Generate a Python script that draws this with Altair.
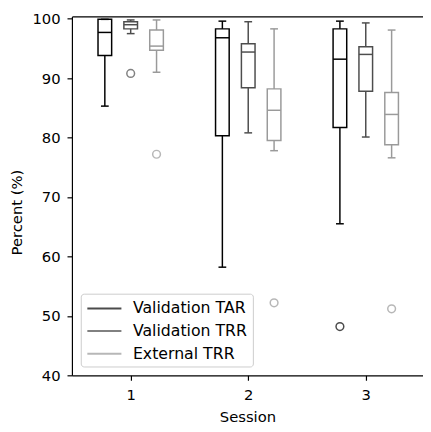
import altair as alt
import pandas as pd

sessions = [1, 2, 3]
groups = ["Validation TAR", "Validation TRR", "External TRR"]
colors = ["#000000", "#4d4d4d", "#9a9a9a"]
group_offsets = [-0.22, 0.0, 0.22]

# box statistics per group, one value per session
whisker_low = {
    "Validation TAR": [85.3, 58.2, 65.5],
    "Validation TRR": [97.5, 80.8, 80.1],
    "External TRR": [91.0, 77.8, 76.6],
}
q1 = {
    "Validation TAR": [93.8, 80.3, 81.7],
    "Validation TRR": [98.3, 88.4, 87.8],
    "External TRR": [94.7, 79.5, 78.8],
}
median = {
    "Validation TAR": [97.7, 96.8, 93.2],
    "Validation TRR": [99.0, 94.4, 94.0],
    "External TRR": [95.4, 84.6, 83.9],
}
q3 = {
    "Validation TAR": [99.9, 98.3, 98.3],
    "Validation TRR": [99.5, 95.8, 95.3],
    "External TRR": [98.1, 88.2, 87.6],
}
whisker_high = {
    "Validation TAR": [99.9, 99.6, 99.6],
    "Validation TRR": [99.8, 99.5, 99.3],
    "External TRR": [99.8, 98.3, 98.1],
}
outlier_group = ["Validation TRR", "External TRR", "External TRR", "Validation TAR", "External TRR"]
outlier_session = [1, 1, 2, 3, 3]
outlier_value = [90.8, 77.2, 52.2, 48.2, 51.2]

rows = []
for gi, g in enumerate(groups):
    for si, s in enumerate(sessions):
        rows.append({
            "group": g, "session": s, "off": group_offsets[gi],
            "lo": whisker_low[g][si], "q1": q1[g][si], "med": median[g][si],
            "q3": q3[g][si], "hi": whisker_high[g][si],
        })
df = pd.DataFrame(rows)
out = pd.DataFrame({
    "group": outlier_group,
    "session": outlier_session,
    "off": [group_offsets[groups.index(g)] for g in outlier_group],
    "value": outlier_value,
})

xscale = alt.Scale(domain=[0.5, 3.487], nice=False, zero=False)
yscale = alt.Scale(domain=[40, 100.4], nice=False, zero=False)
stroke = alt.Stroke("group:N", scale=alt.Scale(domain=groups, range=colors),
                    legend=alt.Legend(title=None))

base = alt.Chart(df).transform_calculate(
    pos="datum.session + datum.off",
    bl="datum.session + datum.off - 0.058",
    br="datum.session + datum.off + 0.058",
    cl="datum.session + datum.off - 0.033",
    cr="datum.session + datum.off + 0.033",
)

xaxis = alt.Axis(orient="bottom", values=[1, 2, 3], format="d", title="Session", grid=False,
                 tickSize=5, labelPadding=8, titlePadding=7)
yaxis = alt.Axis(values=[40, 50, 60, 70, 80, 90, 100], title="Percent (%)", grid=False,
                 tickSize=5, labelPadding=7, titlePadding=8, titleY=199)

boxes = base.mark_rect(filled=False, strokeWidth=1.5).encode(
    x=alt.X("bl:Q", scale=xscale, axis=xaxis),
    x2="br:Q",
    y=alt.Y("q1:Q", scale=yscale, axis=yaxis),
    y2="q3:Q",
    stroke=stroke,
)
medians = base.mark_rule(strokeWidth=1.5).encode(
    x=alt.X("bl:Q", scale=xscale,
            axis=alt.Axis(orient="top", labels=False, ticks=False, title=None, grid=False)),
    x2="br:Q",
    y=alt.Y("med:Q", scale=yscale),
    stroke=stroke,
)
upper = base.mark_rule(strokeWidth=1.5).encode(
    x=alt.X("pos:Q", scale=xscale, axis=None), y=alt.Y("q3:Q", scale=yscale),
    y2="hi:Q", stroke=stroke,
)
lower = base.mark_rule(strokeWidth=1.5).encode(
    x=alt.X("pos:Q", scale=xscale, axis=None), y=alt.Y("lo:Q", scale=yscale),
    y2="q1:Q", stroke=stroke,
)
cap_hi = base.mark_rule(strokeWidth=1.5).encode(
    x=alt.X("cl:Q", scale=xscale, axis=None), x2="cr:Q",
    y=alt.Y("hi:Q", scale=yscale), stroke=stroke,
)
cap_lo = base.mark_rule(strokeWidth=1.5).encode(
    x=alt.X("cl:Q", scale=xscale, axis=None), x2="cr:Q",
    y=alt.Y("lo:Q", scale=yscale), stroke=stroke,
)
fliers = alt.Chart(out).transform_calculate(
    pos="datum.session + datum.off"
).mark_point(filled=False, size=62, strokeWidth=1.5).encode(
    x=alt.X("pos:Q", scale=xscale, axis=None), y=alt.Y("value:Q", scale=yscale),
    stroke=stroke,
)

chart = alt.layer(boxes, medians, upper, lower, cap_hi, cap_lo, fliers).resolve_axis(
    x="independent"
).properties(
    width=357, height=365,
    autosize=alt.AutoSizeParams(type="none"),
    padding={"left": 65, "top": 5, "right": 0, "bottom": 48},
).configure(
    font="DejaVu Sans",
).configure_view(
    strokeWidth=0,
).configure_axis(
    labelFont="DejaVu Sans", titleFont="DejaVu Sans",
    labelFontSize=15, titleFontSize=15, titleFontWeight="normal",
    labelColor="#000000", titleColor="#000000",
    domainColor="#000000", tickColor="#000000", domainWidth=1.2, tickWidth=1.2,
).configure_legend(
    orient="bottom-left", offset=9, padding=5,
    symbolType="M-2,0H2", symbolStrokeWidth=2, symbolSize=300, symbolOffset=9,
    symbolFillColor="transparent",
    labelFont="DejaVu Sans", labelFontSize=16, labelColor="#000000", labelOffset=19,
    strokeColor="#cccccc", fillColor="#ffffff", cornerRadius=3, rowPadding=5,
)

chart.save("out.html", embed_options={"renderer": "svg", "actions": False})
